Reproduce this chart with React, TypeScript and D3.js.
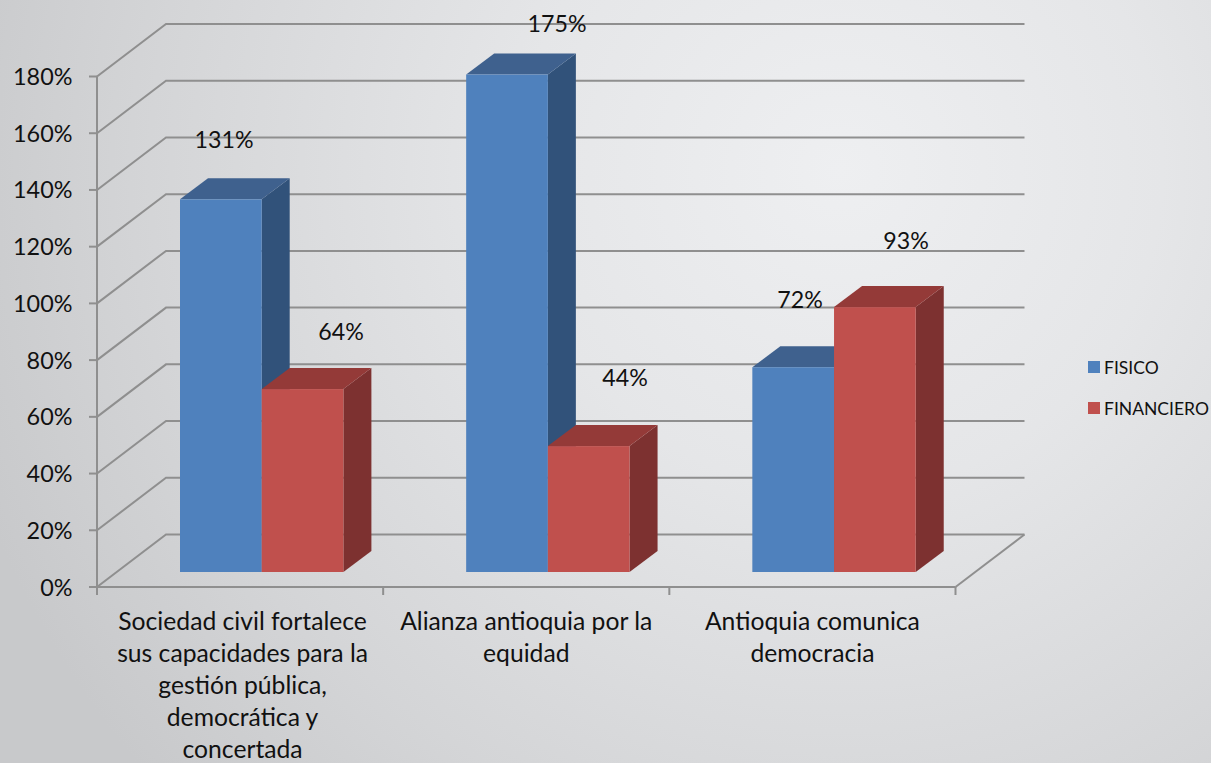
import React from "react";
import * as d3 from "d3";

const categoryLines = [
  ["Sociedad civil fortalece", "sus capacidades para la", "gestión pública,", "democrática y", "concertada"],
  ["Alianza antioquia por la", "equidad"],
  ["Antioquia comunica", "democracia"],
];
const categories = ["Sociedad", "Alianza", "Antioquia"];
const seriesNames = ["FISICO", "FINANCIERO"];
const fisico = [1.314, 1.754, 0.722];
const financiero = [0.645, 0.444, 0.934];
const labelsFisico = ["131%", "175%", "72%"];
const labelsFinanciero = ["64%", "44%", "93%"];
const ticks = [0, 0.2, 0.4, 0.6, 0.8, 1, 1.2, 1.4, 1.6, 1.8];
const fillFront = ["#4f81bd", "#c0504d"];
const fillTop = ["#3f618e", "#943a38"];
const fillSide = ["#31527a", "#7d3130"];

const FONT = "Lato, 'Noto Sans', sans-serif";
const GRID = "#8f8f8f";
const W = 1211, H = 763;

const y = d3.scaleLinear().domain([0, 1.8]).range([587, 76.5]);
const x = d3.scaleBand<string>().domain(categories).range([97, 955.5]);
const wallDx = 69, wallDy = -52.5;
const barDx = 28, barDy = -21, barLift = -15;
const barInset = 83, barW = 81.7;

const labelPos = [
  [[224, 148], [341, 340]],
  [[557, 32], [625, 386]],
  [[800, 308], [906, 249]],
];

export default function App() {
  const barY = (v: number) => y(v) + barLift;
  const series = [fisico, financiero];
  const labels = [labelsFisico, labelsFinanciero];
  return (
    <svg width={W} height={H} style={{ position: "absolute", left: 0, top: 0, display: "block" }}>
      <defs>
        <radialGradient id="bg" gradientUnits="userSpaceOnUse" cx={840} cy={170} r={920}>
          <stop offset="0" stopColor="#eeeff1" />
          <stop offset="0.35" stopColor="#e5e6e8" />
          <stop offset="0.75" stopColor="#d4d5d7" />
          <stop offset="1" stopColor="#c8c9cb" />
        </radialGradient>
      </defs>
      <rect x={0} y={0} width={W} height={H} fill="url(#bg)" />

      {ticks.map((t) => (
        <g key={t} fill="none" stroke={GRID} strokeWidth={2}>
          <path d={`M${x.range()[0]},${y(t)}L${x.range()[0] + wallDx},${y(t) + wallDy}L${x.range()[1] + wallDx},${y(t) + wallDy}`} />
          <line x1={x.range()[0] - 8} x2={x.range()[0]} y1={y(t)} y2={y(t)} />
        </g>
      ))}
      <g stroke={GRID} strokeWidth={2} fill="none">
        <line x1={97} x2={97} y1={y(1.8)} y2={y(0) + 8} />
        <line x1={97} x2={955.5} y1={y(0)} y2={y(0)} />
        <line x1={955.5} y1={y(0)} x2={955.5 + wallDx} y2={y(0) + wallDy} />
        {categories.map((c) => (
          <line key={c} x1={x(c)! + x.bandwidth()} x2={x(c)! + x.bandwidth()} y1={y(0)} y2={y(0) + 8} />
        ))}
      </g>

      {categories.map((c, i) =>
        series.map((s, k) => {
          const bx = x(c)! + barInset + k * barW;
          const top = barY(s[i]);
          const base = barY(0);
          return (
            <g key={c + k}>
              <path d={`M${bx + barW},${top}L${bx + barW + barDx},${top + barDy}L${bx + barW + barDx},${base + barDy}L${bx + barW},${base}Z`} fill={fillSide[k]} />
              <path d={`M${bx},${top}L${bx + barDx},${top + barDy}L${bx + barW + barDx},${top + barDy}L${bx + barW},${top}Z`} fill={fillTop[k]} />
              <rect x={bx} y={top} width={barW} height={base - top} fill={fillFront[k]} />
            </g>
          );
        })
      )}

      <g fontFamily={FONT} fill="#111">
        {ticks.map((t) => (
          <text key={t} x={72.5} y={y(t) + 8.5} fontSize={23.4} textAnchor="end">{d3.format(".0%")(t)}</text>
        ))}
        {categories.map((c, i) =>
          categoryLines[i].map((ln, j) => (
            <text key={ln} x={x(c)! + x.bandwidth() / 2 + (i === 0 ? 2.5 : 0)} y={630 + j * 32} fontSize={24.7} textAnchor="middle">{ln}</text>
          ))
        )}
        {categories.map((c, i) =>
          labels.map((l, k) => (
            <text key={c + k} x={labelPos[i][k][0]} y={labelPos[i][k][1]} fontSize={23.2} textAnchor="middle">{l[i]}</text>
          ))
        )}
      </g>

      {seriesNames.map((n, k) => (
        <g key={n}>
          <rect x={1088} y={361 + k * 41} width={12} height={12} fill={fillFront[k]} />
          <text x={1104} y={374 + k * 41} fontFamily={FONT} fontSize={17.5} fill="#111">{n}</text>
        </g>
      ))}
    </svg>
  );
}
